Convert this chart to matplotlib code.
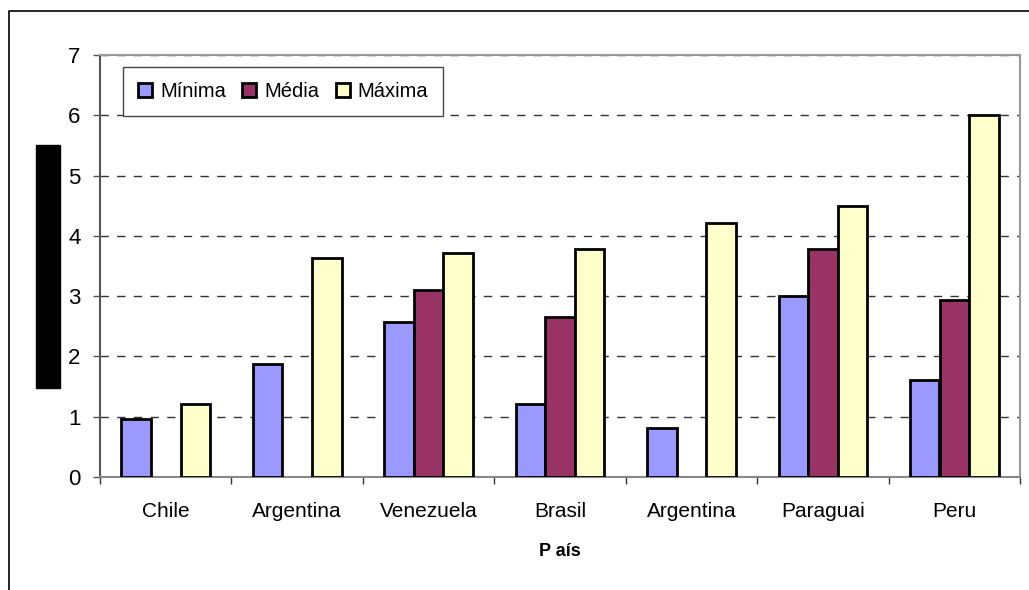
import numpy as np
import matplotlib.pyplot as plt
from matplotlib.patches import Rectangle
from matplotlib.lines import Line2D

paises = ["Chile", "Argentina", "Venezuela", "Brasil", "Argentina", "Paraguai", "Peru"]
minima = [0.96, 1.87, 2.57, 1.21, 0.82, 3.0, 1.61]
media = [np.nan, np.nan, 3.1, 2.65, np.nan, 3.78, 2.93]
maxima = [1.21, 3.64, 3.71, 3.78, 4.22, 4.5, 6.0]

plt.rcParams['font.family'] = ['Liberation Sans', 'DejaVu Sans']

fig = plt.figure(figsize=(10.29, 5.9), dpi=100)
ax = fig.add_axes([100/1029, 1-477/590, 920/1029, 422/590])

x = np.arange(len(paises))
w = 0.225
series = [(minima, "Mínima", "#9999FF", -w), (media, "Média", "#993366", 0), (maxima, "Máxima", "#FFFFCC", w)]
for vals, lab, col, off in series:
    ax.bar(x + off, vals, w, color=col, edgecolor='black', linewidth=2, label=lab, zorder=3)

ax.set_xlim(-0.5, len(paises) - 0.5)
ax.set_ylim(0, 7)
ax.set_yticks(range(0, 8))
ax.yaxis.grid(True, linestyle=(0, (6, 6)), color='#333333', linewidth=1, zorder=0)
ax.tick_params(axis='y', labelsize=16, length=5, width=1, color='#555555', pad=9)

ax.set_xticks(x)
ax.set_xticklabels(paises)
ax.tick_params(axis='x', which='major', length=0, labelsize=15, pad=18)
ax.set_xticks(np.arange(-0.5, len(paises)), minor=True)
ax.tick_params(axis='x', which='minor', length=5, width=1, color='#333333')

for s in ['top', 'right']:
    ax.spines[s].set_color('#999999')
    ax.spines[s].set_linewidth(1.5)
ax.spines['left'].set_color('#555555')
ax.spines['left'].set_linewidth(1.5)
ax.spines['bottom'].set_color('#888888')
ax.spines['bottom'].set_linewidth(1.5)

leg = ax.legend(loc='upper left', bbox_to_anchor=(0.025, 0.972), ncol=3, fontsize=14.5,
                handlelength=0.7, handleheight=0.7, handletextpad=0.4, columnspacing=0.8,
                borderaxespad=0, fancybox=False, framealpha=1, borderpad=0.75)
leg.get_frame().set_edgecolor('#444444')
leg.get_frame().set_linewidth(1)

fig.text(560/1029, 1-552/590, "P aís", ha='center', va='center', fontsize=13, fontweight='bold')

# redacted y label block
fig.patches.append(Rectangle((36/1029, 1-388/590), 24/1029, 243/590, transform=fig.transFigure,
                             color='black', figure=fig))
# outer frame (left and top edges visible)
fig.lines.append(Line2D([8.5/1029, 8.5/1029, 1], [0, 1-11/590, 1-11/590], transform=fig.transFigure,
                        color='black', linewidth=1.2))

fig.savefig("out.png", dpi=100)
